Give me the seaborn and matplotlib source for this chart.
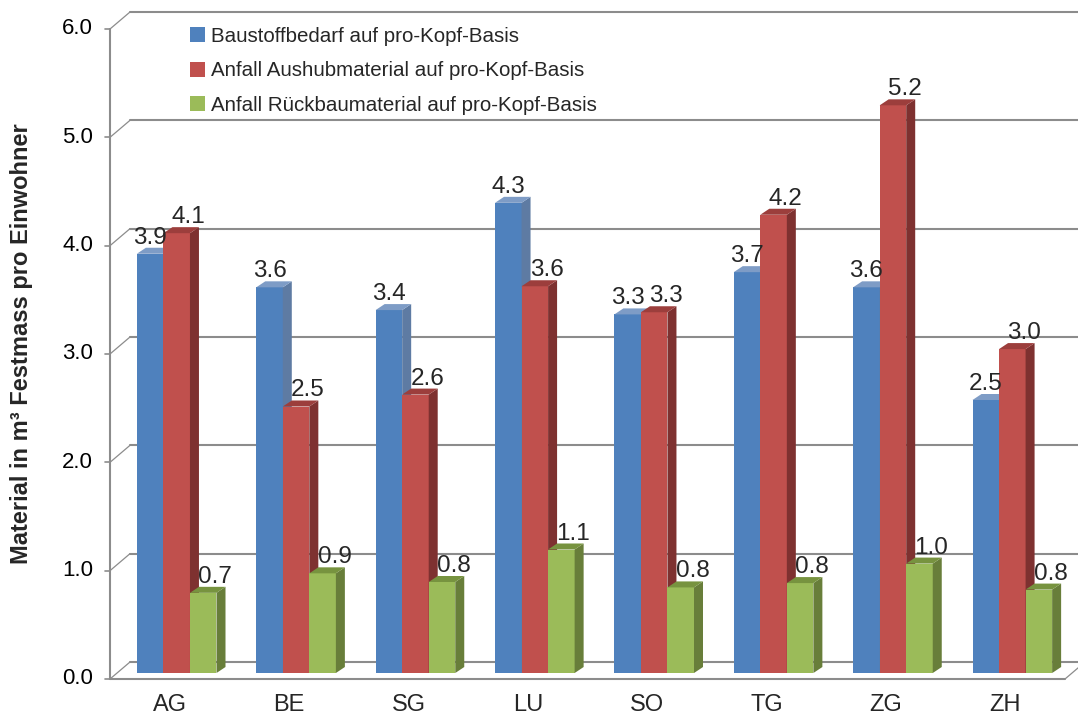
import pandas as pd
import seaborn as sns
import matplotlib.pyplot as plt
from matplotlib.patches import Polygon

kantone = ["AG", "BE", "SG", "LU", "SO", "TG", "ZG", "ZH"]
baustoff = [3.87, 3.56, 3.35, 4.34, 3.31, 3.70, 3.56, 2.52]
aushub = [4.06, 2.46, 2.57, 3.57, 3.33, 4.23, 5.24, 2.99]
rueckbau = [0.74, 0.92, 0.84, 1.14, 0.79, 0.83, 1.01, 0.77]
serien = ["Baustoffbedarf auf pro-Kopf-Basis",
          "Anfall Aushubmaterial auf pro-Kopf-Basis",
          "Anfall Rückbaumaterial auf pro-Kopf-Basis"]
yticks = [0, 1, 2, 3, 4, 5, 6]
ylabel = "Material in m³ Festmass pro Einwohner"

farben = ["#4F81BD", "#C0504D", "#9BBB59"]
seiten = ["#5E7BA3", "#7E3130", "#687E3A"]
deckel = ["#7E9CC6", "#9C3E3C", "#77933F"]
grau = "#8C8C8C"

df = pd.DataFrame({
    "Kanton": kantone * 3,
    "Wert": baustoff + aushub + rueckbau,
    "Serie": [s for s in serien for _ in kantone],
})

sns.set_theme(style="white")
plt.rcParams["font.family"] = ["Liberation Sans", "DejaVu Sans"]

fig = plt.figure(figsize=(10.78, 7.17), dpi=100)
ax = fig.add_axes([117 / 1078, 44 / 717, 955 / 1078, 650 / 717])

sns.barplot(data=df, x="Kanton", y="Wert", hue="Serie", hue_order=serien,
            palette=farben, width=0.667, gap=0, linewidth=0, saturation=1,
            ax=ax, legend=True)

ax.set_xlim(-0.5, 7.5)
ax.set_ylim(0, 6)
for s in ax.spines.values():
    s.set_visible(False)
ax.set_xticks([])
ax.set_yticks([])
ax.set_xlabel("")
ax.set_ylabel("")


def verschieb(x, y, dxp, dyp):
    # Punkt in Datenkoordinaten um Pixel verschieben
    X, Y = ax.transData.transform((x, y))
    return ax.transData.inverted().transform((X + dxp, Y + dyp))


vorne = (-7, -6)
hinten = (13, 11)

# Rückwand-Gitterlinien und linke Wand
for v in yticks:
    a = verschieb(-0.5, v, *hinten)
    b = verschieb(7.5, v, *hinten)
    ax.plot([a[0], b[0]], [a[1], b[1]], color=grau, lw=1.5, zorder=0.5, clip_on=False)
    f = verschieb(-0.5, v, *vorne)
    ax.plot([f[0], a[0]], [f[1], a[1]], color=grau, lw=0.9, zorder=0.5, clip_on=False)
    t = verschieb(-0.5, v, vorne[0] - 5, vorne[1])
    ax.plot([t[0], f[0]], [t[1], f[1]], color=grau, lw=1.2, zorder=0.5, clip_on=False)
    lab = verschieb(-0.5, v, vorne[0] - 17, vorne[1])
    ax.text(lab[0], lab[1], f"{v:.1f}", ha="right", va="center",
            fontsize=16, color="#000000")

f0 = verschieb(-0.5, 0, *vorne)
f6 = verschieb(-0.5, 6, *vorne)
ax.plot([f0[0], f6[0]], [f0[1], f6[1]], color=grau, lw=1.5, zorder=0.5, clip_on=False)
r0 = verschieb(7.5, 0, *vorne)
ax.plot([f0[0], r0[0]], [f0[1], r0[1]], color=grau, lw=1.5, zorder=6, clip_on=False)
rh = verschieb(7.5, 0, *hinten)
ax.plot([r0[0], rh[0]], [r0[1], rh[1]], color=grau, lw=0.9, zorder=6, clip_on=False)

# Kategorien vorne
for i, k in enumerate(kantone):
    p = verschieb(i, 0, vorne[0], vorne[1] - 15)
    ax.text(p[0], p[1], k, ha="center", va="top", fontsize=17)

# pseudo-3D Seiten, Deckel und Werte
tx, ty = verschieb(0, 0, 9, 6)
for j, cont in enumerate(ax.containers):
    for bar in cont:
        x0 = bar.get_x()
        w = bar.get_width()
        h = bar.get_height()
        bar.set_zorder(2 + j)
        seite = Polygon([(x0 + w, 0), (x0 + w, h), (x0 + w + tx, h + ty), (x0 + w + tx, ty)],
                        closed=True, facecolor=seiten[j], edgecolor="none", zorder=2 + j)
        oben = Polygon([(x0, h), (x0 + w, h), (x0 + w + tx, h + ty), (x0 + tx, h + ty)],
                       closed=True, facecolor=deckel[j], edgecolor="none", zorder=2 + j)
        ax.add_patch(seite)
        ax.add_patch(oben)
        versatz = 0 if j == 0 else 12
        lp = verschieb(x0 + w / 2, h, versatz, 10)
        ax.text(lp[0], lp[1], f"{h:.1f}", ha="center", va="baseline",
                fontsize=17.5, zorder=10)

handles, labels = ax.get_legend_handles_labels()
ax.legend(handles, labels, loc="upper left", bbox_to_anchor=(190 / 1078, 1 - 27 / 717),
          bbox_transform=fig.transFigure, frameon=False, fontsize=14.8,
          handlelength=0.72, handleheight=0.72, handletextpad=0.3, labelspacing=0.75,
          borderpad=0, borderaxespad=0)

fig.text(22 / 1078, 1 - 344 / 717, ylabel, rotation=90, ha="center", va="center",
         fontsize=17, fontweight="bold")

fig.savefig("out.png", dpi=100)
